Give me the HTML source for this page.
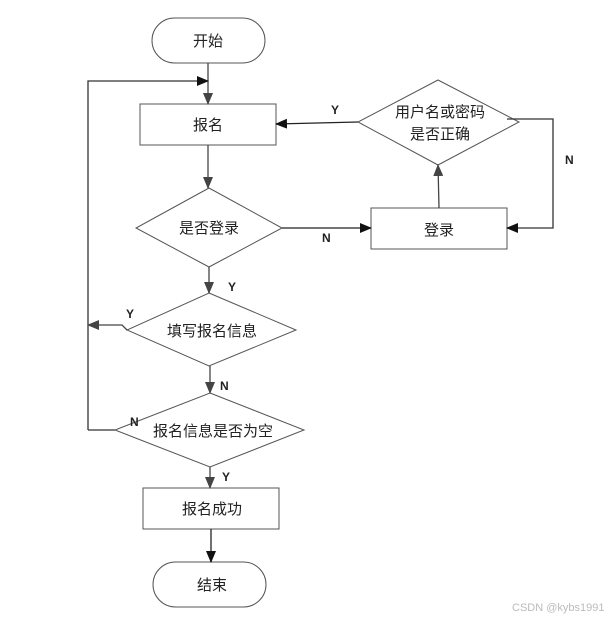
<!DOCTYPE html>
<html><head><meta charset="utf-8"><style>
html,body{margin:0;padding:0;background:#fff;}
svg{display:block;}
text{font-family:"Liberation Sans","Noto Sans CJK SC",sans-serif;}
</style></head><body>
<svg width="611" height="619" viewBox="0 0 611 619" xmlns="http://www.w3.org/2000/svg">
<defs>
<marker id="a" markerWidth="12" markerHeight="10" refX="11" refY="5" orient="auto" markerUnits="userSpaceOnUse">
<path d="M0,0 L12,5 L0,10 Z" fill="#111"/></marker>
<marker id="g" markerWidth="12" markerHeight="10" refX="11" refY="5" orient="auto" markerUnits="userSpaceOnUse">
<path d="M0,0 L12,5 L0,10 Z" fill="#444"/></marker>
</defs>
<g fill="#fff" stroke="#555" stroke-width="1">
<rect x="152" y="18" width="113" height="45" rx="22.5"/>
<rect x="140" y="104" width="136" height="41"/>
<polygon points="209,188 282,228 209,267 136,228"/>
<rect x="371" y="208" width="136" height="41"/>
<polygon points="438,80 519,122 438,165 358,122"/>
<polygon points="209,293 296,330 209,366 127,330"/>
<polygon points="210,393 304,430 210,467 115,430"/>
<rect x="143" y="488" width="136" height="41"/>
<rect x="153" y="562" width="113" height="45" rx="22.5"/>
</g>
<g fill="none" stroke="#444" stroke-width="1.3">
<line x1="208" y1="63" x2="208" y2="104" marker-end="url(#g)"/>
<polyline points="88,430 88,81 208,81" stroke="#333" marker-end="url(#a)"/>
<line x1="208" y1="145" x2="208" y2="188" marker-end="url(#g)"/>
<line x1="282" y1="228" x2="371" y2="228" stroke="#222" marker-end="url(#a)"/>
<line x1="439" y1="208" x2="438" y2="165" marker-end="url(#g)"/>
<line x1="358" y1="122" x2="276" y2="124" stroke="#222" marker-end="url(#a)"/>
<polyline points="507,119 553,119 553,228 507,228" stroke="#333" marker-end="url(#a)"/>
<line x1="209" y1="267" x2="209" y2="293" marker-end="url(#g)"/>
<polyline points="127,330 122,325 88,325" marker-end="url(#g)"/>
<line x1="210" y1="366" x2="210" y2="393" marker-end="url(#g)"/>
<line x1="115" y1="430" x2="88" y2="430" stroke="#333"/>
<line x1="210" y1="467" x2="210" y2="488" marker-end="url(#g)"/>
<line x1="211" y1="529" x2="211" y2="562" stroke="#222" marker-end="url(#a)"/>
</g>
<g font-size="15" fill="#222" text-anchor="middle">
<text x="208" y="46">开始</text>
<text x="208" y="130">报名</text>
<text x="209" y="233">是否登录</text>
<text x="439" y="235">登录</text>
<text x="440" y="117">用户名或密码</text>
<text x="440" y="139">是否正确</text>
<text x="212" y="336">填写报名信息</text>
<text x="213" y="436">报名信息是否为空</text>
<text x="212" y="514">报名成功</text>
<text x="212" y="590">结束</text>
</g>
<g font-size="12" font-weight="bold" fill="#222">
<text x="331" y="114">Y</text>
<text x="565" y="164">N</text>
<text x="322" y="242">N</text>
<text x="228" y="291">Y</text>
<text x="126" y="318">Y</text>
<text x="220" y="390">N</text>
<text x="130" y="426">N</text>
<text x="222" y="481">Y</text>
</g>
<text x="512" y="611" font-size="11" fill="#bbb">CSDN @kybs1991</text>
</svg>
</body></html>
